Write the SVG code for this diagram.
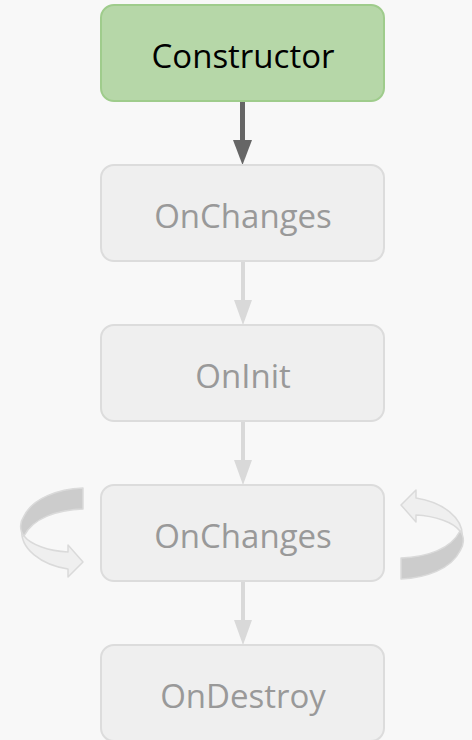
<svg xmlns="http://www.w3.org/2000/svg" width="472" height="740" viewBox="0 0 472 740">
  <defs>
    <style>
      .box { fill: #efefef; stroke: #dcdcdc; stroke-width: 2; }
      .box.active { fill: #b6d7a8; stroke: #9fcc8c; }
      .label { font-family: "Source Sans Pro", "Open Sans", "Noto Sans", sans-serif; font-size: 33px; fill: #999999; text-anchor: middle; }
      .active-label { fill: #000000; }
      .edge { stroke: #d9d9d9; stroke-width: 4; fill: none; }
      .edge.done { stroke: #666666; stroke-width: 5; }
      .head { fill: #d9d9d9; }
      .head.done { fill: #666666; }
      .ribbon-back { fill: #cccccc; stroke: #dadada; stroke-width: 1.5; stroke-linejoin: round; }
      .ribbon-front { fill: #efefef; stroke: #dadada; stroke-width: 1.5; stroke-linejoin: round; }
    </style>
    <!-- curved "repeat" ribbon arrow, drawn for the left side -->
    <g id="loop-arrow">
      <path class="ribbon-front" d="M22,528 C19,549 42,565 68,569 L68,577 L83,562 L68,545 L68,552 C49,551 31,545 24,536 Z"/>
      <path class="ribbon-back" d="M83,488 L83,509 C57,510 33,518 24,536 C19,530 20,522 24,516 C33,498 58,489 83,488 Z"/>
    </g>
  </defs>

  <rect width="472" height="740" fill="#f8f8f8"/>

  <g id="connectors">
    <line class="edge done" x1="242.5" y1="101" x2="242.5" y2="145"/>
    <polygon class="head done" points="233,140 252,140 242.5,165"/>
    <line class="edge" x1="243" y1="261" x2="243" y2="303"/>
    <polygon class="head" points="234,300 252,300 243,325"/>
    <line class="edge" x1="243" y1="421" x2="243" y2="463"/>
    <polygon class="head" points="234,460 252,460 243,485"/>
    <line class="edge" x1="243" y1="581" x2="243" y2="623"/>
    <polygon class="head" points="234,620 252,620 243,645"/>
    <use id="loop-left" href="#loop-arrow"/>
    <use id="loop-right" href="#loop-arrow" transform="rotate(180 242 533.5)"/>
  </g>

  <g id="constructor">
    <rect class="box active" x="101" y="5" width="283" height="96" rx="13"/>
    <text class="label active-label" x="243" y="68">Constructor</text>
  </g>
  <g id="onchanges-first">
    <rect class="box" x="101" y="165" width="283" height="96" rx="13"/>
    <text class="label" x="243" y="228">OnChanges</text>
  </g>
  <g id="oninit">
    <rect class="box" x="101" y="325" width="283" height="96" rx="13"/>
    <text class="label" x="243" y="388">OnInit</text>
  </g>
  <g id="onchanges-repeat">
    <rect class="box" x="101" y="485" width="283" height="96" rx="13"/>
    <text class="label" x="243" y="548">OnChanges</text>
  </g>
  <g id="ondestroy">
    <rect class="box" x="101" y="645" width="283" height="96" rx="13"/>
    <text class="label" x="243" y="708">OnDestroy</text>
  </g>
</svg>
